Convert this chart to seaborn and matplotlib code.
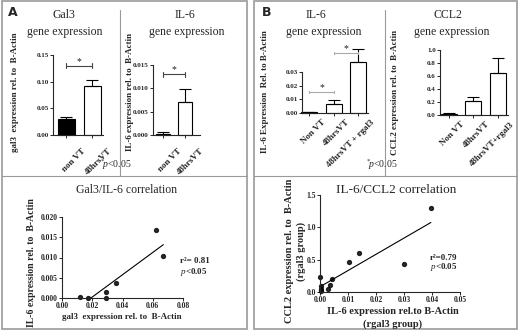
import numpy as np
import pandas as pd
import matplotlib
matplotlib.use('Agg')
import matplotlib.pyplot as plt
import matplotlib.transforms as mtransforms
from matplotlib.lines import Line2D
from matplotlib.patches import Rectangle
import seaborn as sns

# panel A bars
gal3_groups = ['non VT', '48hrsVT']
gal3_mean = [0.030, 0.091]
gal3_err = [0.004, 0.013]

il6a_groups = ['non VT', '48hrsVT']
il6a_mean = [0.0003, 0.0071]
il6a_err = [0.0004, 0.0027]

# panel B bars
il6b_groups = ['Non VT', '48hrsVT', '48hrsVT + rgal3']
il6b_mean = [0.0005, 0.0068, 0.0370]
il6b_err = [0.0003, 0.0030, 0.0095]

ccl2_groups = ['Non VT', '48hrsVT', '48hrsVT+rgal3']
ccl2_mean = [0.02, 0.21, 0.64]
ccl2_err = [0.01, 0.06, 0.24]

# scatter A
gal3_x = [0.012, 0.017, 0.029, 0.029, 0.036, 0.062, 0.067]
il6_y = [0.0003, 0.0000, 0.0016, 0.0000, 0.0036, 0.0167, 0.0103]

# scatter B
il6_x = [0.0000, 0.0003, 0.0004, 0.0002, 0.0030, 0.0036, 0.0042, 0.0105, 0.0138, 0.0300, 0.0396]
ccl2_y = [0.23, 0.09, 0.05, 0.02, 0.04, 0.11, 0.20, 0.46, 0.61, 0.43, 1.30]

sns.set_style("ticks")
plt.rcParams['font.family'] = ['Liberation Serif', 'DejaVu Serif']
plt.rcParams['mathtext.fontset'] = 'custom'
plt.rcParams['mathtext.rm'] = 'Liberation Serif'
plt.rcParams['mathtext.it'] = 'Liberation Serif:italic'
plt.rcParams['mathtext.bf'] = 'Liberation Serif:bold'
plt.rcParams['axes.linewidth'] = 0.8
plt.rcParams['xtick.major.size'] = 2
plt.rcParams['ytick.major.size'] = 2
plt.rcParams['xtick.major.width'] = 0.7
plt.rcParams['ytick.major.width'] = 0.7
plt.rcParams['xtick.major.pad'] = 1
plt.rcParams['ytick.major.pad'] = 1

W, H = 520, 332
fig = plt.figure(figsize=(W / 100, H / 100), dpi=100)


def px(x0, y0, x1, y1):
    return [x0 / W, 1 - y1 / H, (x1 - x0) / W, (y1 - y0) / H]


def ftext(x, y, s, **kw):
    fig.text(x / W, 1 - y / H, s, **kw)


def bar_panel(rect, groups, means, errs, colors, xlim, yticks, fmt, dx, dy):
    ax = fig.add_axes(px(*rect))
    sns.barplot(x=groups, y=means, hue=groups, palette=colors, legend=False,
                edgecolor='black', linewidth=0.8, width=0.65, ax=ax)
    for p in ax.patches:
        p.set_clip_on(False)
    ax.errorbar(range(len(groups)), means, yerr=[[0] * len(groups), errs],
                fmt='none', ecolor='black', elinewidth=0.8, capsize=4.5, capthick=0.8,
                clip_on=False)
    ax.set_xlim(*xlim)
    ax.set_ylim(yticks[0], yticks[-1])
    ax.set_yticks(yticks)
    ax.set_yticklabels([fmt.format(t) for t in yticks], fontsize=5, fontweight='bold')
    ax.set_xticks(range(len(groups)))
    ax.set_xticklabels(groups, rotation=45, ha='right', va='top', rotation_mode='anchor',
                       fontsize=6.5, fontweight='bold')
    off = mtransforms.ScaledTranslation(dx / 100, -dy / 100, fig.dpi_scale_trans)
    for lab in ax.get_xticklabels():
        lab.set_transform(lab.get_transform() + off)
    ax.set_xlabel('')
    ax.set_ylabel('')
    sns.despine(ax=ax)
    return ax


def sig(ax, x0, x1, y, color, h):
    ax.plot([x0, x1], [y, y], color=color, lw=0.8, clip_on=False)
    ax.plot([x0, x0], [y - h, y + h], color=color, lw=0.8, clip_on=False)
    ax.plot([x1, x1], [y - h, y + h], color=color, lw=0.8, clip_on=False)
    ax.text((x0 + x1) / 2, y, '*', ha='center', va='bottom', fontsize=7, color='#222222')


# ---- frames ----
gray = '#9a9a9a'
fig.add_artist(Rectangle((2 / W, 1 - 329 / H), 245 / W, 328 / H, transform=fig.transFigure,
                         fill=False, edgecolor=gray, lw=1.2))
fig.add_artist(Rectangle((254 / W, 1 - 329 / H), 263 / W, 328 / H, transform=fig.transFigure,
                         fill=False, edgecolor=gray, lw=1.2))
for (a, b) in [(2, 247), (254, 517)]:
    fig.add_artist(Line2D([a / W, b / W], [1 - 176 / H, 1 - 176 / H], color=gray, lw=0.8))
fig.add_artist(Line2D([120 / W, 120 / W], [1 - 10 / H, 1 - 176 / H], color=gray, lw=0.8))
fig.add_artist(Line2D([385 / W, 385 / W], [1 - 10 / H, 1 - 176 / H], color=gray, lw=0.8))

ftext(8, 12, 'A', fontsize=9, fontweight='bold', family='DejaVu Sans', va='center')
ftext(262, 12, 'B', fontsize=9, fontweight='bold', family='DejaVu Sans', va='center')

# ---- A: Gal3 bars ----
ax1 = bar_panel((53, 55, 103, 135), gal3_groups, gal3_mean, gal3_err, ['black', 'white'],
                (-0.5, 1.4), [0, 0.05, 0.10, 0.15], '{:.2f}', 15, 8)
sig(ax1, 0, 1, 0.13, '#444444', 0.005)
ftext(64, 15, 'Gal3', fontsize=8.5, ha='center', va='center')
ftext(65, 32, 'gene expression', fontsize=8.5, ha='center', va='center')
ftext(15, 92, 'gal3  expression rel. to  B-Actin', fontsize=6.5, fontweight='bold',
      rotation=90, ha='center', va='center')

# ---- A: IL-6 bars ----
ax2 = bar_panel((153, 65, 200, 135), il6a_groups, il6a_mean, il6a_err, ['black', 'white'],
                (-0.45, 1.68), [0, 0.005, 0.010, 0.015], '{:.3f}', 15, 8)
sig(ax2, 0, 1, 0.013, '#444444', 0.0005)
ftext(185, 15, 'IL-6', fontsize=8.5, ha='center', va='center')
ftext(187, 32, 'gene expression', fontsize=8.5, ha='center', va='center')
ftext(130, 92, 'IL-6 expression rel. to  B-Actin', fontsize=6.5, fontweight='bold',
      rotation=90, ha='center', va='center')
ftext(100, 165, r'$^{*}\!p$<0.05', fontsize=7, va='center')

# ---- B: IL-6 bars ----
ax3 = bar_panel((302, 72, 368, 113), il6b_groups, il6b_mean, il6b_err, ['white'] * 3,
                (-0.3, 2.4), [0, 0.01, 0.02, 0.03], '{:.2f}', 12, 1)
sig(ax3, 0, 1, 0.0153, '#aaaaaa', 0.0008)
sig(ax3, 1, 2, 0.0438, '#aaaaaa', 0.0008)
ftext(316, 15, 'IL-6', fontsize=8.5, ha='center', va='center')
ftext(324, 32, 'gene expression', fontsize=8.5, ha='center', va='center')
ftext(265, 92, 'IL-6 Expression  Rel. to B-Actin', fontsize=6.5, fontweight='bold',
      rotation=90, ha='center', va='center')
ftext(366, 165, r'$^{*}\!p$<0.05', fontsize=7, va='center')

# ---- B: CCL2 bars ----
ax4 = bar_panel((440, 50, 508, 115), ccl2_groups, ccl2_mean, ccl2_err, ['white'] * 3,
                (-0.35, 2.4), [0, 0.2, 0.4, 0.6, 0.8, 1.0], '{:.1f}', 12, 1)
ftext(448, 15, 'CCL2', fontsize=8.5, ha='center', va='center')
ftext(452, 32, 'gene expression', fontsize=8.5, ha='center', va='center')
ftext(395, 92, 'CCL2 expression rel. to  B-Actin', fontsize=6.5, fontweight='bold',
      rotation=90, ha='center', va='center')

# ---- A: scatter ----
ax5 = fig.add_axes(px(62, 217, 183, 298))
sns.regplot(x=gal3_x, y=il6_y, ci=None, ax=ax5, color='black',
            scatter_kws=dict(s=8, clip_on=False), line_kws=dict(lw=0.8))
ax5.set_xlim(0, 0.08)
ax5.set_ylim(0, 0.02)
ax5.set_xticks([0, 0.02, 0.04, 0.06, 0.08])
ax5.set_xticklabels(['0.00', '0.02', '0.04', '0.06', '0.08'], fontsize=5.5, fontweight='bold')
ax5.set_yticks([0, 0.005, 0.010, 0.015, 0.020])
ax5.set_yticklabels(['0.000', '0.005', '0.010', '0.015', '0.020'], fontsize=5.5, fontweight='bold')
sns.despine(ax=ax5)
ftext(127, 190, 'Gal3/IL-6 correlation', fontsize=8.5, ha='center', va='center')
ftext(122, 317, 'gal3  expression rel. to  B-Actin', fontsize=6.5, fontweight='bold',
      ha='center', va='center')
ftext(32, 263, 'IL-6 expression rel. to  B-Actin', fontsize=7, fontweight='bold',
      rotation=90, ha='center', va='center')
ftext(180, 261, 'r\u00b2= 0.81', fontsize=6.5, fontweight='bold', va='center')
ftext(180, 272, r'$\it{p}$<0.05', fontsize=6.5, fontweight='bold', va='center')

# ---- B: scatter ----
ax6 = fig.add_axes(px(320, 195, 460, 292))
sns.regplot(x=il6_x, y=ccl2_y, ci=None, ax=ax6, color='black',
            scatter_kws=dict(s=8, clip_on=False), line_kws=dict(lw=0.8))
ax6.set_xlim(0, 0.05)
ax6.set_ylim(0, 1.5)
ax6.set_xticks([0, 0.01, 0.02, 0.03, 0.04, 0.05])
ax6.set_xticklabels(['0.00', '0.01', '0.02', '0.03', '0.04', '0.05'], fontsize=5.5, fontweight='bold')
ax6.set_yticks([0, 0.5, 1.0, 1.5])
ax6.set_yticklabels(['0.0', '0.5', '1.0', '1.5'], fontsize=5.5, fontweight='bold')
sns.despine(ax=ax6)
ftext(396, 190, 'IL-6/CCL2 correlation', fontsize=9.5, ha='center', va='center')
ftext(393, 312, 'IL-6 expression rel.to B-Actin', fontsize=7.5, fontweight='bold',
      ha='center', va='center')
ftext(393, 324, '(rgal3 group)', fontsize=7.5, fontweight='bold', ha='center', va='center')
ftext(290, 251, 'CCL2 expression rel. to  B-Actin', fontsize=7.5, fontweight='bold',
      rotation=90, ha='center', va='center')
ftext(301, 251, '(rgal3 group)', fontsize=7.5, fontweight='bold',
      rotation=90, ha='center', va='center')
ftext(430, 258, 'r\u00b2=0.79', fontsize=6.5, fontweight='bold', va='center')
ftext(430, 267, r'$\it{p}$<0.05', fontsize=6.5, fontweight='bold', va='center')

fig.savefig('out.png', dpi=100)
